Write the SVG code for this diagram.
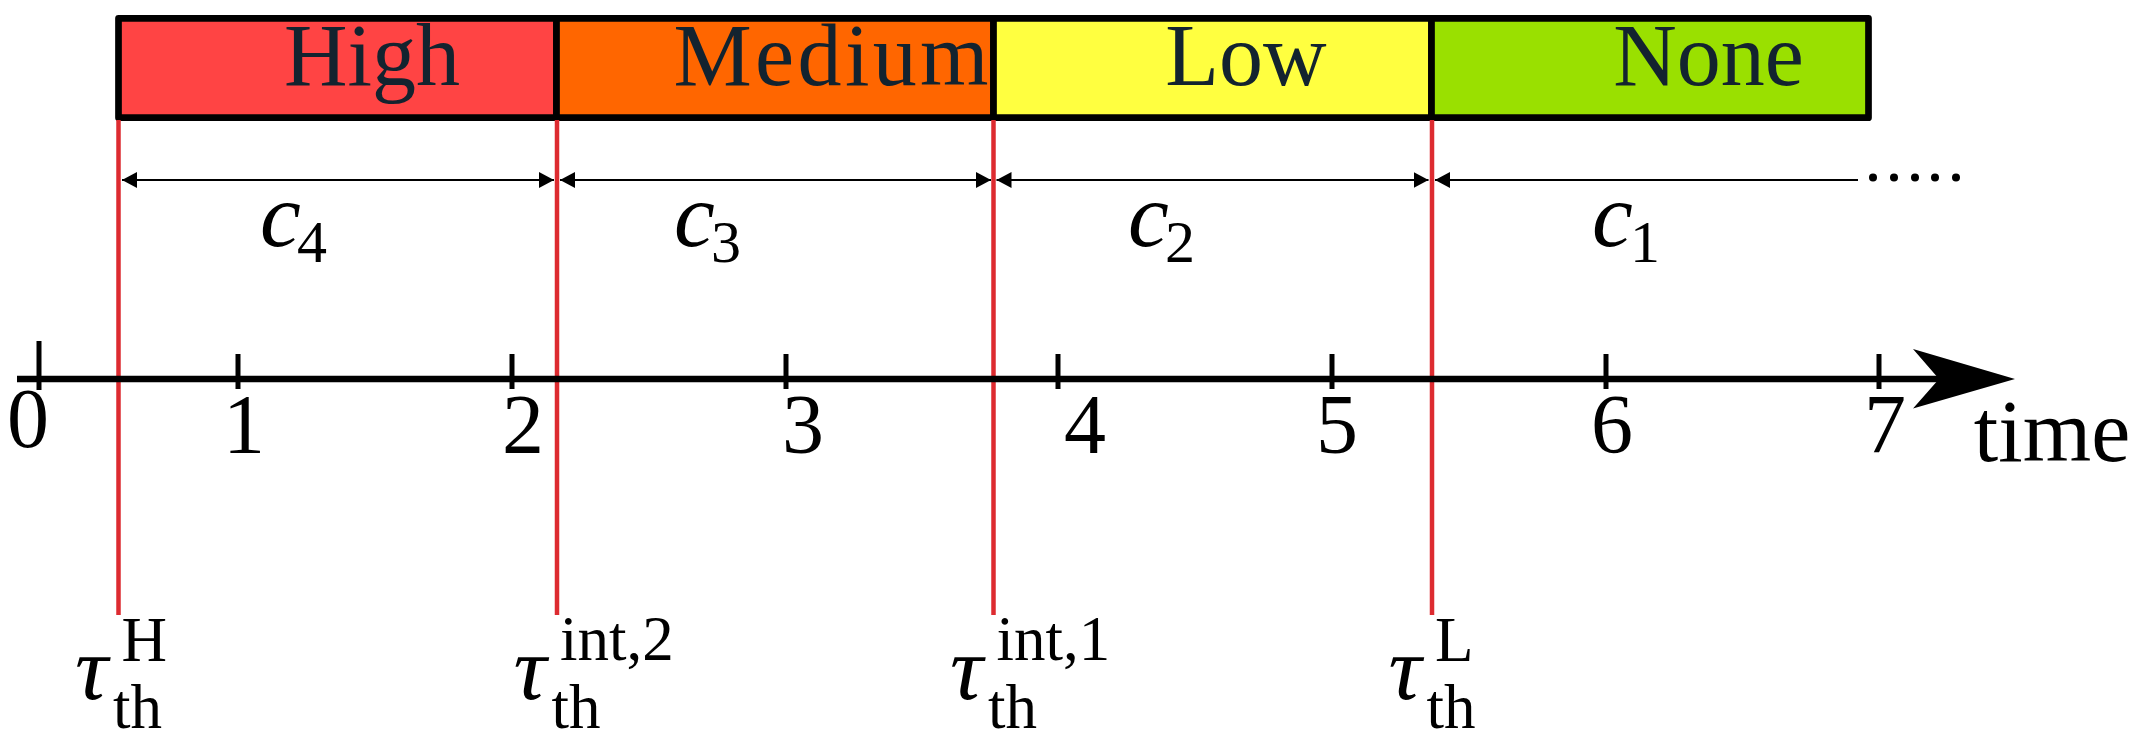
<svg xmlns="http://www.w3.org/2000/svg" width="2136" height="741" viewBox="0 0 2136 741">
<defs>
<style>
.seg{stroke:#000;stroke-width:6.7;stroke-linejoin:round}
.lbl{font-family:"Liberation Serif",serif;font-size:88px;fill:#13232f;text-anchor:middle}
.num{font-family:"Liberation Serif",serif;font-size:84px;fill:#000;text-anchor:middle}
.math{font-family:"Liberation Serif",serif;fill:#000}
.it{font-style:italic;font-size:92px}
.sub{font-style:normal;font-size:60px}
.scr{font-style:normal;font-size:63px}
.red{stroke:#dd2b30;stroke-width:4.5}
.dim{stroke:#000;stroke-width:2.2;fill:none}
.tick{stroke:#000;stroke-width:5}
</style>
<marker id="ah" markerUnits="userSpaceOnUse" markerWidth="16" markerHeight="16" refX="15" refY="8" orient="auto-start-reverse">
<path d="M0,0 L15,8 L0,16 Z" fill="#000"/>
</marker>
</defs>
<rect width="2136" height="741" fill="#fff"/>

<g id="band-high">
<rect class="seg" x="118.5" y="18.3" width="438" height="99.4" fill="#ff4444"/>
<text class="lbl" x="372" y="84.5">High</text>
</g>
<g id="band-medium">
<rect class="seg" x="556.5" y="18.3" width="437" height="99.4" fill="#ff6600"/>
<text class="lbl" x="831" y="84.5" textLength="315">Medium</text>
</g>
<g id="band-low">
<rect class="seg" x="993.5" y="18.3" width="438" height="99.4" fill="#ffff40"/>
<text class="lbl" x="1246" y="84.5">Low</text>
</g>
<g id="band-none">
<rect class="seg" x="1431.5" y="18.3" width="437" height="99.4" fill="#9ae000"/>
<text class="lbl" x="1708.5" y="84.5">None</text>
</g>

<g id="connectors">
<line class="red" x1="118.5" y1="120" x2="118.5" y2="615"/>
<line class="red" x1="557" y1="120" x2="557" y2="615"/>
<line class="red" x1="993.5" y1="120" x2="993.5" y2="615"/>
<line class="red" x1="1432" y1="120" x2="1432" y2="615"/>
<line class="dim" x1="122" y1="180" x2="554" y2="180" marker-start="url(#ah)" marker-end="url(#ah)"/>
<line class="dim" x1="560" y1="180" x2="991" y2="180" marker-start="url(#ah)" marker-end="url(#ah)"/>
<line class="dim" x1="996.5" y1="180" x2="1428.5" y2="180" marker-start="url(#ah)" marker-end="url(#ah)"/>
<line class="dim" x1="1435" y1="180" x2="1858" y2="180" marker-start="url(#ah)"/>
<g fill="#000">
<circle cx="1873" cy="177.5" r="4"/>
<circle cx="1894" cy="177.5" r="4"/>
<circle cx="1915" cy="177.5" r="4"/>
<circle cx="1935" cy="177.5" r="4"/>
<circle cx="1956" cy="177.5" r="4"/>
</g>
</g>

<g id="duration-labels">
<text class="math"><tspan class="it" x="260" y="246">c</tspan><tspan class="sub" x="297" y="262">4</tspan></text>
<text class="math"><tspan class="it" x="674" y="246">c</tspan><tspan class="sub" x="711" y="262">3</tspan></text>
<text class="math"><tspan class="it" x="1128" y="246">c</tspan><tspan class="sub" x="1165" y="262">2</tspan></text>
<text class="math"><tspan class="it" x="1592" y="246">c</tspan><tspan class="sub" x="1630" y="262">1</tspan></text>
</g>

<g id="time-axis">
<line x1="17" y1="379" x2="1942" y2="379" stroke="#000" stroke-width="6.7"/>
<path d="M2015,379 L1913,349 L1939,379 L1913,408.5 Z" fill="#000"/>
<line class="tick" x1="39" y1="341" x2="39" y2="390"/>
<line class="tick" x1="238" y1="354" x2="238" y2="389"/>
<line class="tick" x1="512" y1="354" x2="512" y2="389"/>
<line class="tick" x1="786" y1="354" x2="786" y2="389"/>
<line class="tick" x1="1058" y1="354" x2="1058" y2="389"/>
<line class="tick" x1="1332" y1="354" x2="1332" y2="389"/>
<line class="tick" x1="1606" y1="354" x2="1606" y2="389"/>
<line class="tick" x1="1879" y1="354" x2="1879" y2="389"/>
<text class="num" x="28" y="447">0</text>
<text class="num" x="244" y="453">1</text>
<text class="num" x="523" y="453">2</text>
<text class="num" x="803" y="453">3</text>
<text class="num" x="1085" y="453">4</text>
<text class="num" x="1337" y="453">5</text>
<text class="num" x="1612" y="453">6</text>
<text class="num" x="1885" y="453">7</text>
<text class="num" x="2052" y="461" style="font-size:88px">time</text>
</g>

<g id="threshold-H">
<text class="math"><tspan class="it" x="75" y="699">τ</tspan><tspan class="scr" x="121.5" y="661">H</tspan><tspan class="scr" x="113" y="728">th</tspan></text>
</g>
<g id="threshold-int2">
<text class="math"><tspan class="it" x="513.5" y="699">τ</tspan><tspan class="scr" x="560" y="660">int,2</tspan><tspan class="scr" x="551.5" y="728">th</tspan></text>
</g>
<g id="threshold-int1">
<text class="math"><tspan class="it" x="950" y="699">τ</tspan><tspan class="scr" x="996.5" y="660">int,1</tspan><tspan class="scr" x="988" y="728">th</tspan></text>
</g>
<g id="threshold-L">
<text class="math"><tspan class="it" x="1388.5" y="699">τ</tspan><tspan class="scr" x="1435" y="661">L</tspan><tspan class="scr" x="1426.5" y="728">th</tspan></text>
</g>
</svg>
